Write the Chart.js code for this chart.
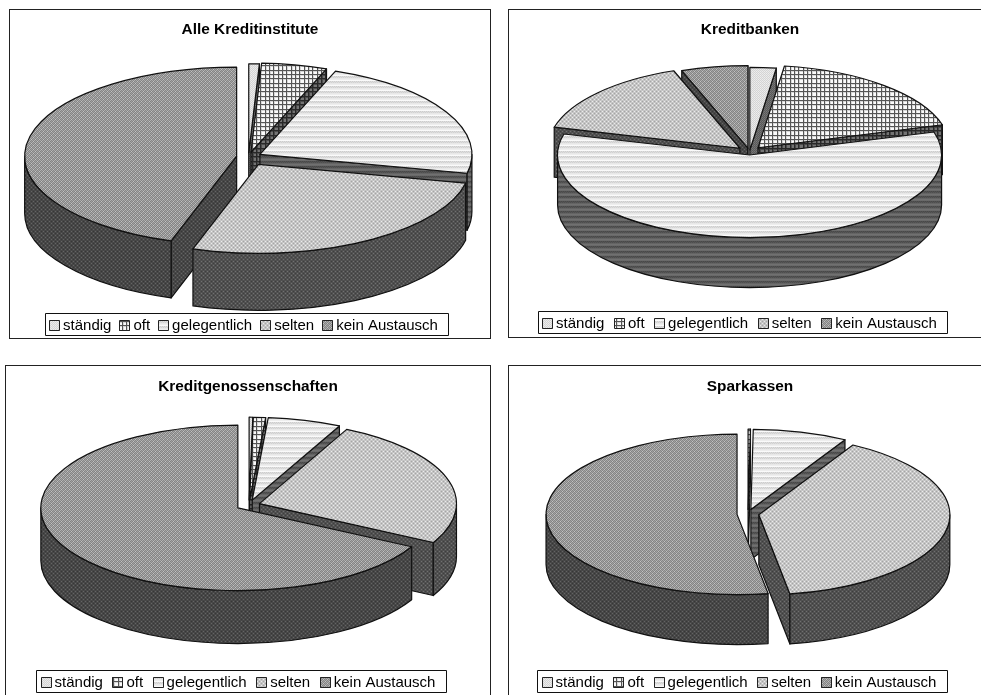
<!DOCTYPE html>
<html lang="de">
<head>
<meta charset="utf-8">
<title>Austausch</title>
<script src="https://cdn.jsdelivr.net/npm/chart.js@4/dist/chart.umd.min.js"></script>
<style>
    html, body { margin: 0; padding: 0; background: #fff; overflow: hidden; width: 981px; height: 695px; }
    canvas { position: absolute; outline: 1px solid #222; outline-offset: -1px; }
</style>
</head>
<body>
<canvas id="alle" width="482" height="330" style="left:9px;top:9px"></canvas>
<canvas id="banken" width="484" height="329" style="left:508px;top:9px"></canvas>
<canvas id="genossen" width="486" height="345" style="left:5px;top:365px"></canvas>
<canvas id="sparkassen" width="484" height="345" style="left:508px;top:365px"></canvas>
<script>
const categories = ["ständig", "oft", "gelegentlich", "selten", "kein Austausch"];
const titles = ["Alle Kreditinstitute", "Kreditbanken", "Kreditgenossenschaften", "Sparkassen"];

// Anteile in Prozent
const alleValues = [0.8, 5.0, 22.6, 26.6, 45.0];
const bankenValues = [2.2, 18.3, 58.6, 15.3, 5.6];
const genossenValues = [0.3, 1.0, 6.0, 25.5, 67.2];
const sparkassenValues = [0, 0.2, 8.0, 39.2, 52.6];

// grid of the "oft" hatch, 4-5-4 pixels apart like the scan
function gridTile(line, soft, paper) {
    const lines = [0, 4, 9];
    const rows = [];
    for (let y = 0; y < 13; y++) {
        const row = [];
        for (let x = 0; x < 13; x++) {
            if (lines.includes(x) || lines.includes(y)) row.push(line);
            else if (lines.includes(x - 1) || lines.includes(y - 1)) row.push(soft);
            else row.push(paper);
        }
        rows.push(row);
    }
    return rows;
}

// pixel tiles, rows of grey values
const topTiles = [
    [[238, 212], [212, 232]],
    gridTile(85, 215, 250),
    [[238, 238, 238, 238], [250, 250, 250, 250], [222, 205, 222, 205], [210, 222, 210, 222], [232, 232, 232, 232]],
    [[235, 195, 165, 195], [195, 200, 195, 200], [165, 195, 235, 195], [195, 200, 195, 200]],
    [[195, 130, 160, 130], [135, 170, 135, 175], [160, 130, 195, 130], [135, 175, 135, 170]]
];
const wallTiles = [
    [[120, 90], [90, 110]],
    gridTile(40, 75, 115),
    [[112, 112, 112, 112], [105, 105, 105, 105], [82, 72, 82, 72], [78, 88, 78, 88], [100, 100, 100, 100]],
    [[112, 80, 62, 80], [80, 80, 80, 80], [62, 80, 112, 80], [80, 80, 80, 80]],
    [[100, 70, 55, 70], [70, 72, 70, 72], [55, 70, 100, 70], [70, 72, 70, 72]]
];

function makePattern(ctx, rows) {
    const c = document.createElement("canvas");
    c.height = rows.length;
    c.width = rows[0].length;
    const t = c.getContext("2d");
    rows.forEach((row, y) => row.forEach((v, x) => {
        t.fillStyle = `rgb(${v},${v},${v})`;
        t.fillRect(x, y, 1, 1);
    }));
    return ctx.createPattern(c, "repeat");
}

function makePie(id, title, values, look) {
    const canvas = document.getElementById(id);
    const ctx = canvas.getContext("2d");
    const tops = topTiles.map(r => makePattern(ctx, r));
    const swatches = topTiles.map(r => makePattern(ctx, r));
    const walls = wallTiles.map(r => makePattern(ctx, r));

    const pie3d = {
        id: "pie3d",
        afterUpdate(chart) {
            // legend sits in its own frame, not centred on the panel
            const legend = chart.legend;
            const [fx, fy, fw, fh] = look.legend;
            const dx = fx + fw / 2 - (legend.left + legend.right) / 2 - 3;
            const first = legend.legendHitBoxes[0];
            const dy = fy + fh / 2 - (first.top + first.height / 2) + 1.5;
            legend.left += dx;
            legend.right += dx;
            legend.top += dy;
            legend.bottom += dy;
            legend.legendHitBoxes.forEach((b) => { b.left += dx; b.top += dy; });
        },
        beforeDatasetsDraw(chart) {
            const c = chart.ctx;
            c.imageSmoothingEnabled = false;
            const arcs = chart.getDatasetMeta(0).data;
            const order = arcs
                .map((arc, i) => ({ arc, i, mid: (arc.startAngle + arc.endAngle) / 2 }))
                .filter(s => s.arc.circumference > 0)
                .sort((a, b) => Math.sin(a.mid) - Math.sin(b.mid));

            order.forEach(({ arc, i, mid }) => {
                const ex = look.cx + Math.cos(mid) * look.explode[i];
                const ey = look.cy + Math.sin(mid) * look.explode[i] * look.ratio;
                const R = arc.outerRadius;
                const a0 = arc.startAngle;
                const a1 = arc.endAngle;
                const rim = a => [ex + Math.cos(a) * R, ey + Math.sin(a) * R * look.ratio];

                c.lineWidth = 1.2;
                c.lineJoin = "round";
                c.strokeStyle = "#111";
                c.fillStyle = walls[i];

                const face = (a) => {
                    const [x, y] = rim(a);
                    c.beginPath();
                    c.moveTo(ex, ey);
                    c.lineTo(x, y);
                    c.lineTo(x, y + look.depth);
                    c.lineTo(ex, ey + look.depth);
                    c.closePath();
                    c.fill();
                    c.stroke();
                };
                if (Math.cos(a0) < 0) face(a0);
                if (Math.cos(a1) > 0) face(a1);

                const from = Math.max(a0, 0);
                const to = Math.min(a1, Math.PI);
                if (to > from) {
                    c.beginPath();
                    c.ellipse(ex, ey, R, R * look.ratio, 0, from, to);
                    c.ellipse(ex, ey + look.depth, R, R * look.ratio, 0, to, from, true);
                    c.closePath();
                    c.fill();
                    c.stroke();
                }

                // top of the slice, the library's own arc squeezed flat
                c.save();
                c.translate(ex, ey);
                c.scale(1, look.ratio);
                c.translate(-arc.x, -arc.y);
                // keep the hatch on the pixel grid despite the squeeze
                tops[i].setTransform(c.getTransform().inverse());
                arc.draw(c);
                c.restore();

                c.beginPath();
                c.moveTo(ex, ey);
                c.ellipse(ex, ey, R, R * look.ratio, 0, a0, a1);
                c.closePath();
                c.stroke();
            });
            return false;
        },
        afterDraw(chart) {
            const c = chart.ctx;
            const [fx, fy, fw, fh] = look.legend;
            c.lineWidth = 1;
            c.strokeStyle = "#111";
            c.strokeRect(fx + 0.5, fy + 0.5, fw, fh);
            chart.legend.legendHitBoxes.forEach((b, i) => {
                const y = Math.round(b.top + b.height / 2 - 5.5);
                const x = Math.round(b.left);
                c.fillStyle = swatches[i];
                c.fillRect(x, y, 11, 11);
                c.strokeStyle = "#222";
                c.strokeRect(x + 0.5, y + 0.5, 10, 10);
            });
        }
    };

    return new Chart(canvas, {
        type: "pie",
        data: {
            labels: categories,
            datasets: [{
                data: values,
                backgroundColor: tops,
                borderWidth: 0,
                radius: look.radius
            }]
        },
        options: {
            responsive: false,
            animation: false,
            devicePixelRatio: 1,
            events: [],
            plugins: {
                tooltip: { enabled: false },
                title: {
                    display: true,
                    text: title,
                    color: "#000",
                    font: { family: "Liberation Sans", size: 15.4, weight: "bold" },
                    padding: { top: look.titleTop, bottom: 0 }
                },
                legend: {
                    position: "bottom",
                    labels: {
                        boxWidth: 6.5,
                        padding: look.legendGap,
                        color: "#000",
                        font: { family: "Liberation Sans", size: 15 },
                        generateLabels: () => categories.map((text, i) => ({
                            text,
                            fontColor: "#000",
                            fillStyle: "rgba(0,0,0,0)",
                            strokeStyle: "rgba(0,0,0,0)",
                            lineWidth: 0,
                            hidden: false,
                            index: i
                        }))
                    }
                }
            }
        },
        plugins: [pie3d]
    });
}

makePie("alle", titles[0], alleValues, {
    cx: 239.5, cy: 148, radius: 212, ratio: 0.42, depth: 57,
    explode: [10, 12, 13, 20, 12], titleTop: 12, legend: [36, 304, 403, 22], legendGap: 8
});
makePie("banken", titles[1], bankenValues, {
    cx: 241.5, cy: 143, radius: 192, ratio: 0.43, depth: 50,
    explode: [5, 13, 7, 13, 9], titleTop: 12, legend: [30, 302, 409, 22], legendGap: 9.5
});
makePie("genossen", titles[2], genossenValues, {
    cx: 244, cy: 140, radius: 197, ratio: 0.42, depth: 53,
    explode: [12, 12, 12, 11, 13], titleTop: 13, legend: [31, 305, 410, 22], legendGap: 9.5
});
makePie("sparkassen", titles[3], sparkassenValues, {
    cx: 240, cy: 149, radius: 191, ratio: 0.42, depth: 50,
    explode: [11, 11, 11, 11, 11], titleTop: 13, legend: [29, 305, 410, 22], legendGap: 9.5
});
</script>
</body>
</html>
